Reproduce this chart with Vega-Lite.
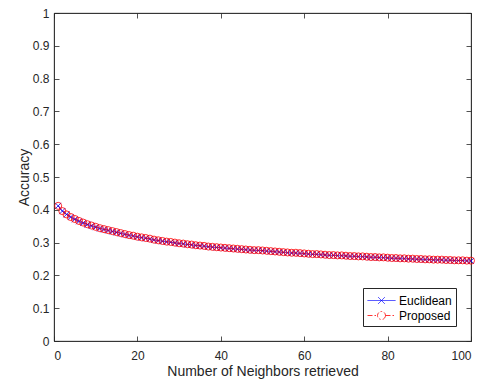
{
  "$schema": "https://vega.github.io/schema/vega-lite/v6.json",
  "width": 417,
  "height": 328,
  "autosize": "none",
  "padding": {"left": 54, "top": 13, "right": 11, "bottom": 45},
  "background": "white",
  "data": {"values": [
    {"n":1,"Euclidean":0.412,"Proposed":0.412},
    {"n":2,"Euclidean":0.396,"Proposed":0.396},
    {"n":3,"Euclidean":0.386,"Proposed":0.386},
    {"n":4,"Euclidean":0.378,"Proposed":0.378},
    {"n":5,"Euclidean":0.371,"Proposed":0.372},
    {"n":6,"Euclidean":0.365,"Proposed":0.366},
    {"n":7,"Euclidean":0.360,"Proposed":0.361},
    {"n":8,"Euclidean":0.355,"Proposed":0.356},
    {"n":9,"Euclidean":0.351,"Proposed":0.352},
    {"n":10,"Euclidean":0.347,"Proposed":0.348},
    {"n":11,"Euclidean":0.343,"Proposed":0.344},
    {"n":12,"Euclidean":0.340,"Proposed":0.341},
    {"n":13,"Euclidean":0.337,"Proposed":0.338},
    {"n":14,"Euclidean":0.334,"Proposed":0.335},
    {"n":15,"Euclidean":0.331,"Proposed":0.332},
    {"n":16,"Euclidean":0.328,"Proposed":0.329},
    {"n":17,"Euclidean":0.325,"Proposed":0.326},
    {"n":18,"Euclidean":0.322,"Proposed":0.323},
    {"n":19,"Euclidean":0.320,"Proposed":0.321},
    {"n":20,"Euclidean":0.317,"Proposed":0.318},
    {"n":21,"Euclidean":0.315,"Proposed":0.316},
    {"n":22,"Euclidean":0.313,"Proposed":0.314},
    {"n":23,"Euclidean":0.311,"Proposed":0.312},
    {"n":24,"Euclidean":0.308,"Proposed":0.309},
    {"n":25,"Euclidean":0.306,"Proposed":0.307},
    {"n":26,"Euclidean":0.304,"Proposed":0.305},
    {"n":27,"Euclidean":0.302,"Proposed":0.303},
    {"n":28,"Euclidean":0.301,"Proposed":0.302},
    {"n":29,"Euclidean":0.299,"Proposed":0.300},
    {"n":30,"Euclidean":0.297,"Proposed":0.298},
    {"n":31,"Euclidean":0.296,"Proposed":0.297},
    {"n":32,"Euclidean":0.294,"Proposed":0.295},
    {"n":33,"Euclidean":0.293,"Proposed":0.294},
    {"n":34,"Euclidean":0.291,"Proposed":0.292},
    {"n":35,"Euclidean":0.290,"Proposed":0.291},
    {"n":36,"Euclidean":0.289,"Proposed":0.290},
    {"n":37,"Euclidean":0.287,"Proposed":0.288},
    {"n":38,"Euclidean":0.286,"Proposed":0.287},
    {"n":39,"Euclidean":0.285,"Proposed":0.286},
    {"n":40,"Euclidean":0.284,"Proposed":0.285},
    {"n":41,"Euclidean":0.283,"Proposed":0.284},
    {"n":42,"Euclidean":0.282,"Proposed":0.283},
    {"n":43,"Euclidean":0.281,"Proposed":0.282},
    {"n":44,"Euclidean":0.280,"Proposed":0.281},
    {"n":45,"Euclidean":0.279,"Proposed":0.280},
    {"n":46,"Euclidean":0.278,"Proposed":0.279},
    {"n":47,"Euclidean":0.277,"Proposed":0.278},
    {"n":48,"Euclidean":0.276,"Proposed":0.277},
    {"n":49,"Euclidean":0.276,"Proposed":0.277},
    {"n":50,"Euclidean":0.275,"Proposed":0.276},
    {"n":51,"Euclidean":0.274,"Proposed":0.275},
    {"n":52,"Euclidean":0.273,"Proposed":0.274},
    {"n":53,"Euclidean":0.272,"Proposed":0.273},
    {"n":54,"Euclidean":0.271,"Proposed":0.272},
    {"n":55,"Euclidean":0.270,"Proposed":0.271},
    {"n":56,"Euclidean":0.269,"Proposed":0.270},
    {"n":57,"Euclidean":0.268,"Proposed":0.269},
    {"n":58,"Euclidean":0.268,"Proposed":0.269},
    {"n":59,"Euclidean":0.267,"Proposed":0.268},
    {"n":60,"Euclidean":0.266,"Proposed":0.267},
    {"n":61,"Euclidean":0.265,"Proposed":0.266},
    {"n":62,"Euclidean":0.264,"Proposed":0.265},
    {"n":63,"Euclidean":0.264,"Proposed":0.265},
    {"n":64,"Euclidean":0.263,"Proposed":0.264},
    {"n":65,"Euclidean":0.262,"Proposed":0.263},
    {"n":66,"Euclidean":0.261,"Proposed":0.262},
    {"n":67,"Euclidean":0.261,"Proposed":0.262},
    {"n":68,"Euclidean":0.260,"Proposed":0.261},
    {"n":69,"Euclidean":0.260,"Proposed":0.261},
    {"n":70,"Euclidean":0.259,"Proposed":0.260},
    {"n":71,"Euclidean":0.258,"Proposed":0.259},
    {"n":72,"Euclidean":0.258,"Proposed":0.259},
    {"n":73,"Euclidean":0.257,"Proposed":0.258},
    {"n":74,"Euclidean":0.257,"Proposed":0.258},
    {"n":75,"Euclidean":0.256,"Proposed":0.257},
    {"n":76,"Euclidean":0.255,"Proposed":0.256},
    {"n":77,"Euclidean":0.255,"Proposed":0.256},
    {"n":78,"Euclidean":0.254,"Proposed":0.255},
    {"n":79,"Euclidean":0.254,"Proposed":0.255},
    {"n":80,"Euclidean":0.253,"Proposed":0.254},
    {"n":81,"Euclidean":0.252,"Proposed":0.253},
    {"n":82,"Euclidean":0.252,"Proposed":0.253},
    {"n":83,"Euclidean":0.251,"Proposed":0.252},
    {"n":84,"Euclidean":0.251,"Proposed":0.252},
    {"n":85,"Euclidean":0.250,"Proposed":0.251},
    {"n":86,"Euclidean":0.250,"Proposed":0.251},
    {"n":87,"Euclidean":0.249,"Proposed":0.250},
    {"n":88,"Euclidean":0.249,"Proposed":0.250},
    {"n":89,"Euclidean":0.248,"Proposed":0.249},
    {"n":90,"Euclidean":0.248,"Proposed":0.249},
    {"n":91,"Euclidean":0.247,"Proposed":0.248},
    {"n":92,"Euclidean":0.247,"Proposed":0.248},
    {"n":93,"Euclidean":0.247,"Proposed":0.248},
    {"n":94,"Euclidean":0.246,"Proposed":0.247},
    {"n":95,"Euclidean":0.246,"Proposed":0.247},
    {"n":96,"Euclidean":0.245,"Proposed":0.246},
    {"n":97,"Euclidean":0.245,"Proposed":0.246},
    {"n":98,"Euclidean":0.245,"Proposed":0.246},
    {"n":99,"Euclidean":0.244,"Proposed":0.245},
    {"n":100,"Euclidean":0.244,"Proposed":0.245}
  ]},
  "transform": [{"fold": ["Euclidean", "Proposed"], "as": ["series", "v"]}],
  "layer": [
    {
      "mark": {"type": "line", "strokeWidth": 0.8},
      "encoding": {
        "x": {"field": "n", "type": "quantitative", "scale": {"domain": [0, 100], "nice": false},
              "axis": {"orient": "bottom", "title": "Number of Neighbors retrieved", "values": [0, 20, 40, 60, 80, 100], "labelPadding": 14.5, "titlePadding": 3}},
        "y": {"field": "v", "type": "quantitative", "scale": {"domain": [0, 1], "nice": false},
              "axis": {"orient": "left", "title": "Accuracy", "values": [0, 0.1, 0.2, 0.3, 0.4, 0.5, 0.6, 0.7, 0.8, 0.9, 1], "format": "~g", "labelPadding": 10, "titlePadding": 1}},
        "color": {"field": "series", "type": "nominal",
                  "scale": {"domain": ["Euclidean", "Proposed"], "range": ["#0000ff", "#ff0000"]},
                  "legend": {
                    "title": null, "orient": "bottom-right", "offset": 15,
                    "strokeColor": "#262626", "fillColor": "white", "padding": 4,
                    "labelFont": "Liberation Sans", "labelFontSize": 12, "labelColor": "black",
                    "symbolType": "M-1,0L1,0", "symbolSize": 256, "symbolStrokeWidth": 0.8,
                    "symbolOffset": 6, "labelOffset": 9, "rowPadding": 0,
                    "encode": {"symbols": {"update": {
                      "shape": {"signal": "datum.value === 'Euclidean' ? 'M-1.75,0L1.75,0M-0.42,-0.42L0.42,0.42M-0.42,0.42L0.42,-0.42' : 'M-1.75,0L-0.5,0M0.5,0L1.75,0M0.5,0A0.5,0.5 0 1,1 -0.5,0A0.5,0.5 0 1,1 0.5,0'"},
                      "size": {"value": 256},
                      "stroke": {"signal": "datum.value === 'Euclidean' ? '#0000ff' : '#ff0000'"},
                      "fill": {"value": "transparent"},
                      "opacity": {"value": 1},
                      "strokeDash": {"signal": "datum.value === 'Proposed' ? [4, 2, 1, 2] : [1, 0]"}
                    }}}
                  }},
        "strokeDash": {"field": "series", "type": "nominal",
                       "scale": {"domain": ["Euclidean", "Proposed"], "range": [[1, 0], [5, 2, 1.5, 2]]}, "legend": null}
      }
    },
    {
      "transform": [{"filter": "datum.series === 'Euclidean'"}],
      "mark": {"type": "point", "filled": false, "strokeWidth": 0.8, "opacity": 1, "shape": "M-1,-1L1,1M-1,1L1,-1", "size": 36, "color": "#0000ff"},
      "encoding": {
        "x": {"field": "n", "type": "quantitative", "axis": {"orient": "top", "title": null, "labels": false, "values": [0, 20, 40, 60, 80, 100]}},
        "y": {"field": "v", "type": "quantitative", "axis": {"orient": "right", "title": null, "labels": false, "values": [0, 0.1, 0.2, 0.3, 0.4, 0.5, 0.6, 0.7, 0.8, 0.9, 1]}}
      }
    },
    {
      "transform": [{"filter": "datum.series === 'Proposed'"}],
      "mark": {"type": "point", "filled": false, "strokeWidth": 0.8, "opacity": 1, "shape": "circle", "size": 50, "color": "#ff0000"},
      "encoding": {
        "x": {"field": "n", "type": "quantitative", "axis": null},
        "y": {"field": "v", "type": "quantitative", "axis": null}
      }
    }
  ],
  "resolve": {"axis": {"x": "independent", "y": "independent"}},
  "config": {
    "view": {"stroke": "#262626", "strokeWidth": 0.8},
    "axis": {
      "domainColor": "#262626", "domainWidth": 0.8, "tickColor": "#262626", "tickWidth": 0.8, "tickSize": -5,
      "labelColor": "#262626", "titleColor": "#262626", "labelFont": "Liberation Sans", "titleFont": "Liberation Sans",
      "labelFontSize": 12, "titleFontSize": 14, "titleFontWeight": "normal", "grid": false
    }
  }
}
